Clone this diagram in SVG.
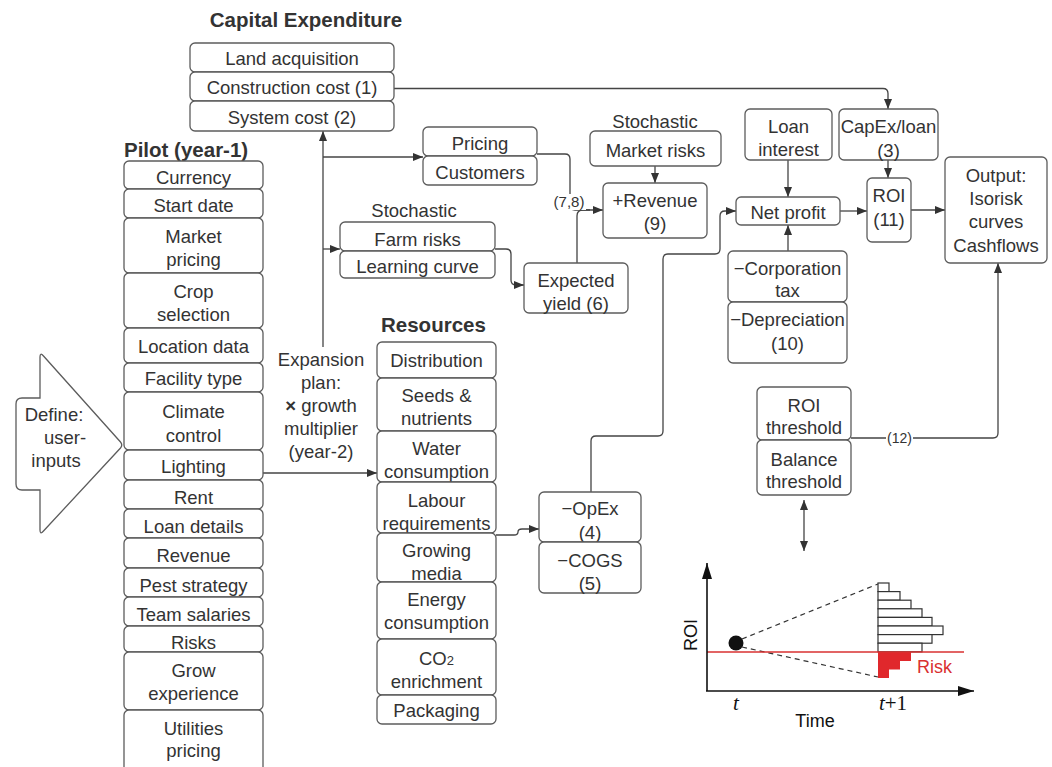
<svg xmlns="http://www.w3.org/2000/svg" width="1052" height="767" viewBox="0 0 1052 767">
<style>
.b{fill:#fff;stroke:#5c5c5c;stroke-width:1.3}
.t{font-family:"Liberation Sans",Arial,sans-serif;font-size:18.5px;fill:#333;text-anchor:middle}
.h{font-family:"Liberation Sans",Arial,sans-serif;font-size:20.5px;font-weight:bold;fill:#333}
.s{font-family:"Liberation Sans",Arial,sans-serif;font-size:15px;fill:#333;text-anchor:middle}
.c{fill:none;stroke:#444;stroke-width:1.3}
.k{font-family:"Liberation Sans",Arial,sans-serif;font-size:18px;fill:#111}
.it{font-family:"Liberation Serif","Times New Roman",serif;font-style:italic;font-size:21px;fill:#111}
</style>
<defs>
<marker id="a" markerUnits="userSpaceOnUse" markerWidth="11" markerHeight="9" refX="10" refY="4" orient="auto"><path d="M0,0 L10,4 L0,8 z" fill="#333"/></marker>
<marker id="as" markerUnits="userSpaceOnUse" markerWidth="11" markerHeight="9" refX="0" refY="4" orient="auto"><path d="M10,0 L0,4 L10,8 z" fill="#333"/></marker>
<marker id="ax" markerUnits="userSpaceOnUse" markerWidth="17" markerHeight="11" refX="16" refY="5" orient="auto"><path d="M0,0 L16,5 L0,10 z" fill="#111"/></marker>
</defs>
<rect width="1052" height="767" fill="#fff"/>

<!-- titles -->
<text class="h" x="306" y="27" text-anchor="middle">Capital Expenditure</text>
<text class="h" x="124" y="157">Pilot (year-1)</text>
<text class="h" x="381" y="332">Resources</text>
<text class="t" x="414" y="217">Stochastic</text>
<text class="t" x="655" y="128">Stochastic</text>

<!-- connectors -->
<g id="connectors">
<path class="c" d="M394,88.5 H883 Q888,88.5 888,93.5 V109" marker-end="url(#a)"/>
<path class="c" d="M323,347 V131" marker-end="url(#a)"/>
<path class="c" d="M323,157 H423" marker-end="url(#a)"/>
<path class="c" d="M323,249 H340" marker-end="url(#a)"/>
<path class="c" d="M537,154 H565 Q570,154 570,159 V205 Q570,210 575,210 H603" marker-end="url(#a)"/>
<path class="c" d="M577,263 V216 Q577,210 583,210 H590"/>
<path class="c" d="M655,166 V183" marker-end="url(#a)"/>
<path class="c" d="M495,249 H506 Q511,249 511,254 V280 Q511,285 516,285 H524" marker-end="url(#a)"/>
<path class="c" d="M263,473 H377" marker-end="url(#a)"/>
<path class="c" d="M496,535 H514 Q518,535 518,532 Q518,529 522,529 H539" marker-end="url(#a)"/>
<path class="c" d="M591,492 V441 Q591,436 596,436 H658 Q663,436 663,431 V259 Q663,254 668,254 H715 Q720,254 720,249 V216 Q720,211 725,211 H736" marker-end="url(#a)"/>
<path class="c" d="M788,160 V197" marker-end="url(#a)"/>
<path class="c" d="M788,251 V225" marker-end="url(#a)"/>
<path class="c" d="M840,211 H867" marker-end="url(#a)"/>
<path class="c" d="M888,160 V178" marker-end="url(#a)"/>
<path class="c" d="M911,210 H945" marker-end="url(#a)"/>
<path class="c" d="M851,438 H993 Q998,438 998,433 V263" marker-end="url(#a)"/>
<path class="c" d="M804,500 V551" marker-start="url(#as)" marker-end="url(#a)"/>
<rect x="552" y="194" width="34" height="16" fill="#fff"/>
<text class="s" x="569" y="206.5">(7,8)</text>
<rect x="886" y="430" width="27" height="15" fill="#fff"/>
<text class="s" x="899.5" y="443" style="font-size:14px">(12)</text>
</g>

<!-- define arrow -->
<g id="define">
<path class="b" d="M16,404 Q16,398 22,398 H40 V357 Q40,352 43.5,356 L120.5,442 Q123,445 120.5,448 L43.5,531 Q40,535 40,530 V490 H22 Q16,490 16,484 Z"/>
<text class="t" x="54" y="421">Define:</text>
<text class="t" x="65" y="444">user-</text>
<text class="t" x="56" y="467">inputs</text>
</g>

<g id="expansion">
<text class="t" x="321" y="366">Expansion</text>
<text class="t" x="321" y="389">plan:</text>
<text class="t" x="321" y="412"><tspan font-weight="bold">×</tspan> growth</text>
<text class="t" x="321" y="435">multiplier</text>
<text class="t" x="321" y="458">(year-2)</text>
</g>

<!-- CapEx -->
<g id="land"><rect class="b" x="190" y="43" width="204" height="29" rx="5"/><text class="t" x="292" y="65">Land acquisition</text></g>
<g id="construction"><rect class="b" x="190" y="72" width="204" height="29" rx="5"/><text class="t" x="292" y="94">Construction cost (1)</text></g>
<g id="system"><rect class="b" x="190" y="101" width="204" height="30" rx="5"/><text class="t" x="292" y="124">System cost (2)</text></g>

<!-- Pilot -->
<g id="currency"><rect class="b" x="124" y="161" width="139" height="28" rx="5"/><text class="t" x="193.5" y="183.5">Currency</text></g>
<g id="startdate"><rect class="b" x="124" y="189" width="139" height="29" rx="5"/><text class="t" x="193.5" y="212">Start date</text></g>
<g id="marketpricing"><rect class="b" x="124" y="218" width="139" height="55" rx="5"/><text class="t" x="193.5" y="243">Market</text><text class="t" x="193.5" y="266">pricing</text></g>
<g id="crop"><rect class="b" x="124" y="273" width="139" height="55" rx="5"/><text class="t" x="193.5" y="298">Crop</text><text class="t" x="193.5" y="321">selection</text></g>
<g id="location"><rect class="b" x="124" y="328" width="139" height="35" rx="5"/><text class="t" x="193.5" y="352.5">Location data</text></g>
<g id="facility"><rect class="b" x="124" y="363" width="139" height="29" rx="5"/><text class="t" x="193.5" y="385">Facility type</text></g>
<g id="climate"><rect class="b" x="124" y="392" width="139" height="58" rx="5"/><text class="t" x="193.5" y="418">Climate</text><text class="t" x="193.5" y="441.5">control</text></g>
<g id="lighting"><rect class="b" x="124" y="450" width="139" height="30" rx="5"/><text class="t" x="193.5" y="473">Lighting</text></g>
<g id="rent"><rect class="b" x="124" y="480" width="139" height="29" rx="5"/><text class="t" x="193.5" y="503.5">Rent</text></g>
<g id="loandetails"><rect class="b" x="124" y="509" width="139" height="29" rx="5"/><text class="t" x="193.5" y="532.5">Loan details</text></g>
<g id="revenue"><rect class="b" x="124" y="538" width="139" height="30" rx="5"/><text class="t" x="193.5" y="562">Revenue</text></g>
<g id="pest"><rect class="b" x="124" y="568" width="139" height="29" rx="5"/><text class="t" x="193.5" y="591.5">Pest strategy</text></g>
<g id="team"><rect class="b" x="124" y="597" width="139" height="29" rx="5"/><text class="t" x="193.5" y="620.5">Team salaries</text></g>
<g id="risks"><rect class="b" x="124" y="626" width="139" height="26" rx="5"/><text class="t" x="193.5" y="648.5">Risks</text></g>
<g id="grow"><rect class="b" x="124" y="652" width="139" height="58" rx="5"/><text class="t" x="193.5" y="677">Grow</text><text class="t" x="193.5" y="700">experience</text></g>
<g id="utilities"><rect class="b" x="124" y="710" width="139" height="70" rx="5"/><text class="t" x="193.5" y="735">Utilities</text><text class="t" x="193.5" y="757">pricing</text></g>

<!-- Resources -->
<g id="distribution"><rect class="b" x="377" y="342" width="119" height="36" rx="5"/><text class="t" x="436.5" y="367">Distribution</text></g>
<g id="seeds"><rect class="b" x="377" y="378" width="119" height="53" rx="5"/><text class="t" x="436.5" y="402">Seeds &amp;</text><text class="t" x="436.5" y="425">nutrients</text></g>
<g id="water"><rect class="b" x="377" y="431" width="119" height="51" rx="5"/><text class="t" x="436.5" y="455">Water</text><text class="t" x="436.5" y="478">consumption</text></g>
<g id="labour"><rect class="b" x="377" y="482" width="119" height="51" rx="5"/><text class="t" x="436.5" y="507">Labour</text><text class="t" x="436.5" y="530">requirements</text></g>
<g id="media"><rect class="b" x="377" y="533" width="119" height="49" rx="5"/><text class="t" x="436.5" y="557">Growing</text><text class="t" x="436.5" y="580">media</text></g>
<g id="energy"><rect class="b" x="377" y="582" width="119" height="57" rx="5"/><text class="t" x="436.5" y="606">Energy</text><text class="t" x="436.5" y="629">consumption</text></g>
<g id="co2"><rect class="b" x="377" y="639" width="119" height="56" rx="5"/><text class="t" x="436.5" y="665">CO<tspan font-size="13">2</tspan></text><text class="t" x="436.5" y="688">enrichment</text></g>
<g id="packaging"><rect class="b" x="377" y="695" width="119" height="29" rx="5"/><text class="t" x="436.5" y="716.5">Packaging</text></g>

<!-- middle -->
<g id="pricing"><rect class="b" x="423" y="127" width="114" height="29" rx="5"/><text class="t" x="480" y="150">Pricing</text></g>
<g id="customers"><rect class="b" x="423" y="156" width="114" height="29" rx="5"/><text class="t" x="480" y="179">Customers</text></g>
<g id="farmrisks"><rect class="b" x="340" y="222" width="155" height="29" rx="5"/><text class="t" x="417.5" y="246">Farm risks</text></g>
<g id="learning"><rect class="b" x="340" y="251" width="155" height="27" rx="5"/><text class="t" x="417.5" y="273">Learning curve</text></g>
<g id="yield"><rect class="b" x="524" y="263" width="104" height="50" rx="5"/><text class="t" x="576" y="287">Expected</text><text class="t" x="576" y="310">yield (6)</text></g>
<g id="marketrisks"><rect class="b" x="590" y="131" width="131" height="35" rx="5"/><text class="t" x="655.5" y="157">Market risks</text></g>
<g id="plusrevenue"><rect class="b" x="603" y="183" width="104" height="55" rx="5"/><text class="t" x="655" y="207">+Revenue</text><text class="t" x="655" y="230">(9)</text></g>
<g id="opex"><rect class="b" x="539" y="492" width="102" height="50" rx="5"/><text class="t" x="590" y="515">−OpEx</text><text class="t" x="590" y="539">(4)</text></g>
<g id="cogs"><rect class="b" x="539" y="542" width="102" height="51" rx="5"/><text class="t" x="590" y="567">−COGS</text><text class="t" x="590" y="590">(5)</text></g>

<!-- right -->
<g id="loaninterest"><rect class="b" x="745" y="109" width="87" height="51" rx="5"/><text class="t" x="788.5" y="133">Loan</text><text class="t" x="788.5" y="156">interest</text></g>
<g id="capexloan"><rect class="b" x="839" y="109" width="99" height="51" rx="5"/><text class="t" x="888.5" y="133">CapEx/loan</text><text class="t" x="888.5" y="157">(3)</text></g>
<g id="netprofit"><rect class="b" x="736" y="197" width="104" height="28" rx="5"/><text class="t" x="788" y="219">Net profit</text></g>
<g id="roi"><rect class="b" x="867" y="178" width="44" height="64" rx="5"/><text class="t" x="889" y="202">ROI</text><text class="t" x="889" y="226">(11)</text></g>
<g id="output"><rect class="b" x="945" y="157" width="102" height="106" rx="5"/><text class="t" x="996" y="182">Output:</text><text class="t" x="996" y="205">Isorisk</text><text class="t" x="996" y="228">curves</text><text class="t" x="996" y="252">Cashflows</text></g>
<g id="corptax"><rect class="b" x="728" y="251" width="119" height="51" rx="5"/><text class="t" x="787.5" y="275">−Corporation</text><text class="t" x="787.5" y="297">tax</text></g>
<g id="depreciation"><rect class="b" x="728" y="302" width="119" height="61" rx="5"/><text class="t" x="787.5" y="326">−Depreciation</text><text class="t" x="787.5" y="350">(10)</text></g>
<g id="roithreshold"><rect class="b" x="757" y="387" width="94" height="53" rx="5"/><text class="t" x="804" y="412">ROI</text><text class="t" x="804" y="434">threshold</text></g>
<g id="balancethreshold"><rect class="b" x="757" y="440" width="94" height="55" rx="5"/><text class="t" x="804" y="466">Balance</text><text class="t" x="804" y="488">threshold</text></g>

<!-- chart -->
<g id="chart">
<g fill="#fff" stroke="#333" stroke-width="1.2">
<rect x="878" y="583" width="11" height="8.6"/>
<rect x="878" y="591.6" width="22" height="8.6"/>
<rect x="878" y="600.2" width="33" height="8.6"/>
<rect x="878" y="608.8" width="44" height="8.6"/>
<rect x="878" y="617.4" width="54" height="8.6"/>
<rect x="878" y="626" width="65" height="8.6"/>
<rect x="878" y="634.6" width="54" height="8.6"/>
<rect x="878" y="643.2" width="44" height="8.6"/>
</g>
<polygon points="878,652 911,652 911,661 900,661 900,669.5 889,669.5 889,678 878,678" fill="#e0282c"/>
<path d="M742,639 L878,584 M742,647 L878,677" fill="none" stroke="#333" stroke-width="1.2" stroke-dasharray="5,4"/>
<path d="M707,652 H964" stroke="#d93030" stroke-width="1.4" fill="none"/>
<path d="M707,691 V563" fill="none" stroke="#111" stroke-width="1.6" marker-end="url(#ax)"/>
<path d="M706,691 H974" fill="none" stroke="#111" stroke-width="1.6" marker-end="url(#ax)"/>
<circle cx="736" cy="643" r="7.5" fill="#111"/>
<text class="k" x="917" y="673" fill="#d93030" style="fill:#d93030">Risk</text>
<text class="k" transform="translate(697,635) rotate(-90)" text-anchor="middle">ROI</text>
<text class="it" x="736" y="710" text-anchor="middle">t</text>
<text class="it" x="893" y="710" text-anchor="middle">t<tspan font-style="normal">+1</tspan></text>
<text class="k" x="815" y="727" text-anchor="middle">Time</text>
</g>
</svg>
